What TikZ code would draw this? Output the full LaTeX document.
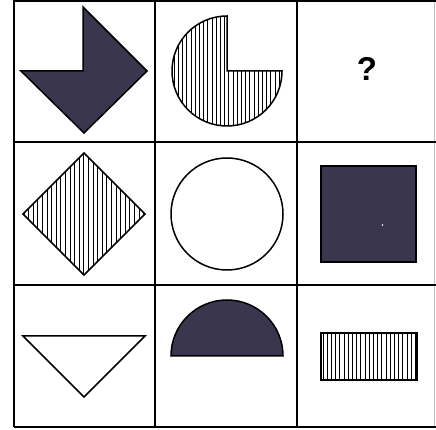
\documentclass[tikz,border=0pt]{standalone}
\usepackage{fontspec}
\setmainfont{Liberation Sans}
\definecolor{darkfill}{RGB}{58,54,78}
\begin{document}
\begin{tikzpicture}[x=1pt,y=1pt,
  gridline/.style={line width=1.8pt,black},
  outline/.style={line width=1.5pt,black,line join=miter},
  hatch/.style={line width=0.75pt,black},
  darkshape/.style={outline,fill=darkfill}]
\useasboundingbox (0,0) rectangle (436,430);
% grid
\draw[gridline] (14,430) -- (14,3);
\draw[gridline] (155,430) -- (155,3);
\draw[gridline] (297,430) -- (297,3);
\draw[line width=0.8pt,black!25] (434,430) -- (434,3);
\draw[gridline] (14,429) -- (436,429);
\draw[gridline] (14,288) -- (436,288);
\draw[gridline] (14,145) -- (436,145);
\draw[gridline] (14,3) -- (436,3);
% row 1, col 1: diamond with notch
\draw[darkshape] (83,423) -- (147,359) -- (84,297) -- (21,359) -- (83,359) -- cycle;
% row 1, col 2: three-quarter disc, hatched
\begin{scope}
  \clip (227,359) -- (227,414) arc[start angle=90,end angle=360,radius=55] -- cycle;
  \foreach \x in {170,174.2,...,286} \draw[hatch] (\x,300) -- (\x,418);
\end{scope}
\draw[outline] (227,359) -- (227,414) arc[start angle=90,end angle=360,radius=55] -- cycle;
% row 1, col 3: question mark
\node[font=\bfseries\fontsize{33}{33}\selectfont] (q) at (367,361) {?};
% row 2, col 1: hatched diamond
\begin{scope}
  \clip (84,277) -- (145,216) -- (84,155) -- (23,216) -- cycle;
  \foreach \x in {24,28.6,...,148} \draw[hatch] (\x,150) -- (\x,280);
\end{scope}
\draw[outline] (84,277) -- (145,216) -- (84,155) -- (23,216) -- cycle;
% row 2, col 2: circle
\draw[outline,fill=white] (227,216) circle[radius=56];
% row 2, col 3: dark square
\draw[darkshape,line width=2.4pt] (321,264) rectangle (416,168);
\fill[white] (382.5,205) circle[radius=0.9];
% row 3, col 1: inverted triangle
\draw[outline,fill=white] (23,94) -- (145,94) -- (84,33) -- cycle;
% row 3, col 2: dark half disc
\draw[darkshape] (171,74) arc[start angle=180,end angle=0,radius=56] -- cycle;
% row 3, col 3: hatched rectangle
\begin{scope}
  \clip (321,97) rectangle (417,50);
  \foreach \x in {323,327.2,...,419} \draw[hatch] (\x,45) -- (\x,100);
\end{scope}
\draw[outline] (321,97) rectangle (417,50);
\end{tikzpicture}
\end{document}
